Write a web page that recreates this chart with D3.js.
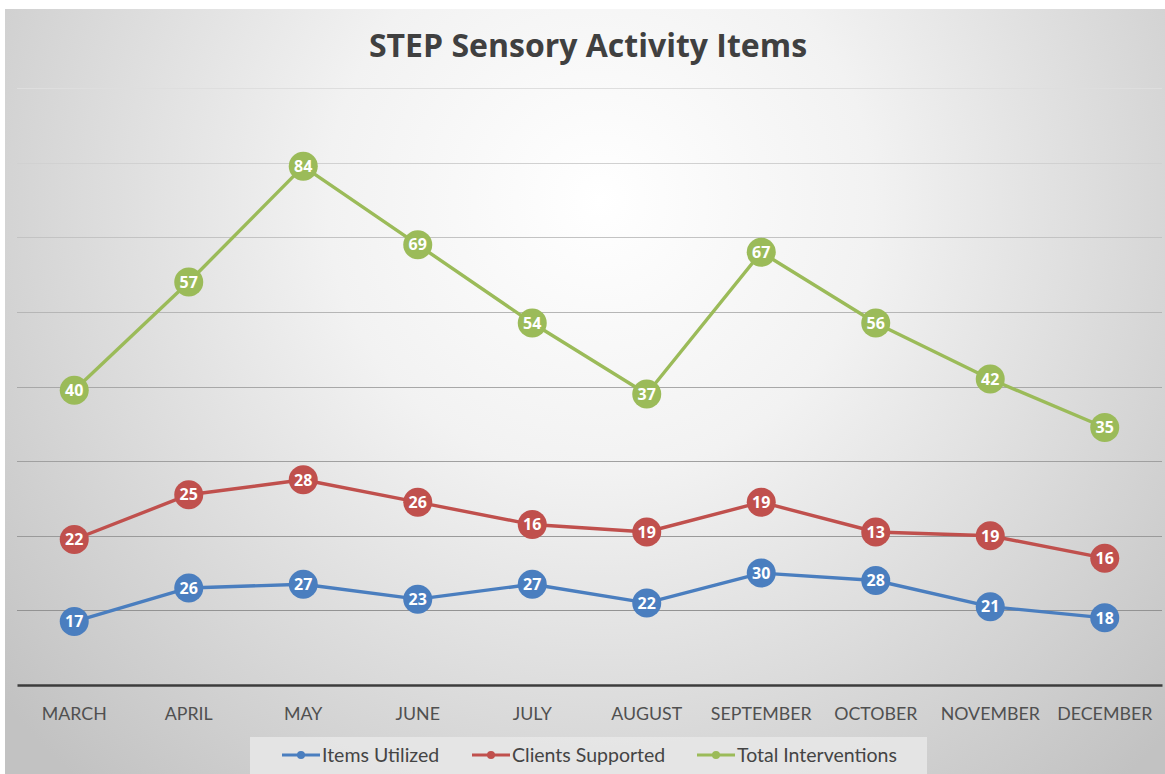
<!DOCTYPE html>
<html>
<head>
<meta charset="utf-8">
<script src="https://cdn.jsdelivr.net/npm/d3@7"></script>
<style>
  html, body { margin: 0; padding: 0; background: #fff; }
  svg { display: block; }
</style>
</head>
<body>
<div id="graph-container"></div>
<script>

// data
var months = ['MARCH', 'APRIL', 'MAY', 'JUNE', 'JULY', 'AUGUST', 'SEPTEMBER', 'OCTOBER', 'NOVEMBER', 'DECEMBER'];
var items_utilized = [17, 26, 27, 23, 27, 22, 30, 28, 21, 18];
var clients_supported = [22, 25, 28, 26, 16, 19, 19, 13, 19, 16];
var total_interventions = [40, 57, 84, 69, 54, 37, 67, 56, 42, 35];
var series_names = ['Items Utilized', 'Clients Supported', 'Total Interventions'];
var y_ticks = [0, 20, 40, 60, 80, 100, 120, 140, 160];

var W = 1165, H = 774;
var margin = {top: 88, left: 17, right: 3, bottom: 89};
var colors = ['#4a7ebf', '#c0504d', '#9bbb59'];

var svg = d3.select('#graph-container').append('svg').attr('width', W).attr('height', H);
var defs = svg.append('defs');

var bg = defs.append('radialGradient').attr('id', 'bg')
    .attr('gradientUnits', 'userSpaceOnUse')
    .attr('cx', 600).attr('cy', 200).attr('r', 780);
bg.append('stop').attr('offset', '0').attr('stop-color', '#ffffff');
bg.append('stop').attr('offset', '0.35').attr('stop-color', '#f2f2f2');
bg.append('stop').attr('offset', '1').attr('stop-color', '#c2c2c2');

svg.append('rect').attr('x', 5).attr('y', 9).attr('width', W - 5).attr('height', H - 9).attr('fill', 'url(#bg)');

// scales
var x = d3.scaleBand().domain(months).range([margin.left, W - margin.right]);
var y = d3.scaleLinear().domain([0, 160]).range([H - margin.bottom, margin.top]);

// stacked line values
var stacked = [items_utilized, clients_supported, total_interventions];
var cumul = [];
var running = months.map(() => 0);
stacked.forEach((vals, s) => {
    running = running.map((r, i) => r + vals[i]);
    cumul.push(running.map((v, i) => ({month: months[i], top: v, value: vals[i]})));
});

// grid
var gridColor = d3.scaleLinear().domain([margin.top, 400, H - margin.bottom]).range(['#dedede', '#a6a6a6', '#8c8c8c']);
svg.append('g').selectAll('line').data(y_ticks.slice(1)).join('line')
    .attr('x1', margin.left).attr('x2', W - margin.right)
    .attr('y1', d => Math.round(y(d)) + 0.5).attr('y2', d => Math.round(y(d)) + 0.5)
    .attr('stroke', d => gridColor(y(d))).attr('stroke-width', 1);

// x axis
var xAxis = svg.append('g').attr('transform', `translate(0,${y(0)})`)
    .call(d3.axisBottom(x).tickSize(0).tickPadding(22));
xAxis.select('.domain').attr('stroke', '#3c3c3c').attr('stroke-width', 2.5);
xAxis.selectAll('text')
    .attr('font-family', 'Lato, "Open Sans", sans-serif')
    .attr('font-size', 17.8).attr('fill', '#505050');

// lines
var line = d3.line().x(d => x(d.month) + x.bandwidth() / 2).y(d => y(d.top));
cumul.forEach((pts, s) => {
    var g = svg.append('g');
    g.append('path').datum(pts).attr('d', line)
        .attr('fill', 'none').attr('stroke', colors[s]).attr('stroke-width', 3.4)
        .attr('stroke-linejoin', 'round');
    var m = g.selectAll('.pt').data(pts).join('g')
        .attr('transform', d => `translate(${x(d.month) + x.bandwidth() / 2},${y(d.top)})`);
    m.append('circle').attr('r', 14.5).attr('fill', colors[s]);
    m.append('text').text(d => d.value)
        .attr('text-anchor', 'middle').attr('dy', '0.36em')
        .attr('font-family', '"Open Sans", sans-serif').attr('font-weight', 'bold')
        .attr('font-size', 16).attr('fill', '#fff');
});

// title
svg.append('text').text('STEP Sensory Activity Items')
    .attr('x', 588).attr('y', 57).attr('text-anchor', 'middle')
    .attr('font-family', '"Open Sans", sans-serif').attr('font-weight', 'bold')
    .attr('font-size', 32).attr('fill', '#404040');

// legend
var legend = svg.append('g');
legend.append('rect').attr('x', 250).attr('y', 737).attr('width', 677).attr('height', 37)
    .attr('fill', '#e8e8e8').attr('opacity', 0.85);
var legendX = [282, 472, 697];
series_names.forEach((name, i) => {
    var lg = legend.append('g').attr('transform', `translate(${legendX[i]},755)`);
    lg.append('line').attr('x1', 0).attr('x2', 38).attr('stroke', colors[i]).attr('stroke-width', 3);
    lg.append('circle').attr('cx', 19).attr('r', 4).attr('fill', colors[i]);
    lg.append('text').text(name).attr('x', 40).attr('dy', '0.35em')
        .attr('font-family', 'Lato, "Open Sans", sans-serif')
        .attr('font-size', 19.5).attr('fill', '#444');
});

</script>
</body>
</html>
